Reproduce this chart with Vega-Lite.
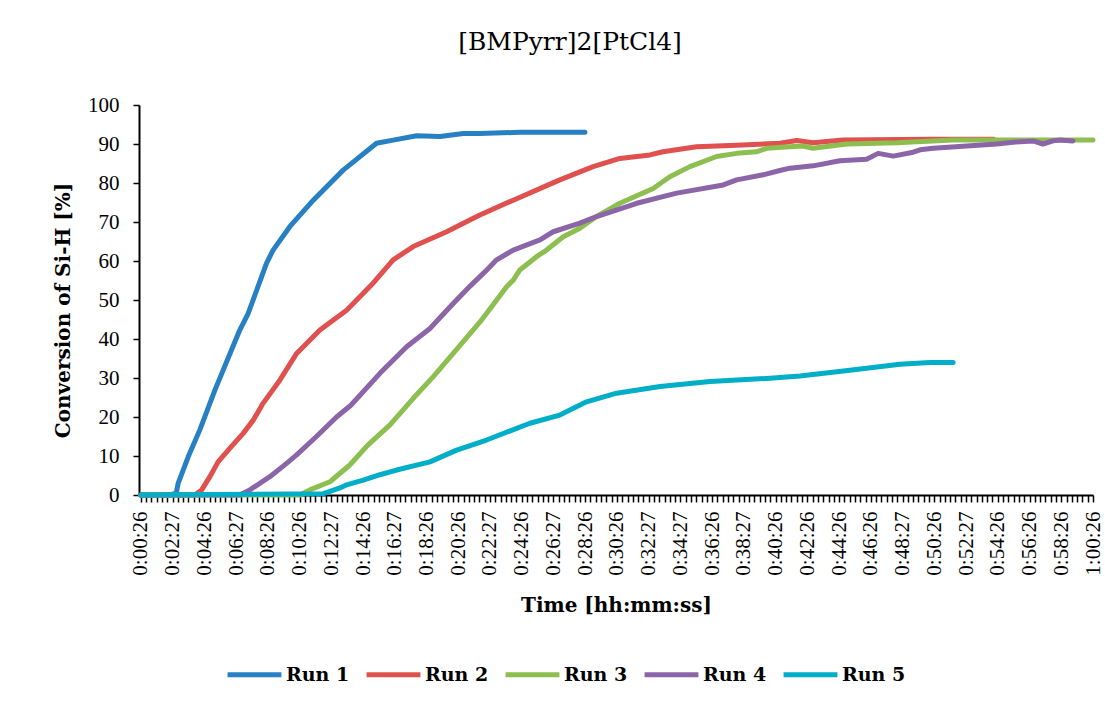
{
  "$schema": "https://vega.github.io/schema/vega-lite/v6.json",
  "autosize": "none",
  "width": 954,
  "height": 390,
  "padding": {"left": 139, "top": 105, "right": 12, "bottom": 207},
  "background": "white",
  "title": {"text": "[BMPyrr]2[PtCl4]", "font": "DejaVu Serif", "fontSize": 25, "fontWeight": "normal", "color": "black", "anchor": "middle", "frame": "group", "dx": -46, "offset": 39},
  "datasets": {
    "runs": [
      {"run": "Run 1", "t": 26, "v": 0}, {"run": "Run 1", "t": 136, "v": 0}, {"run": "Run 1", "t": 160, "v": 0.5}, {"run": "Run 1", "t": 167, "v": 3},
      {"run": "Run 1", "t": 205, "v": 9.8}, {"run": "Run 1", "t": 249, "v": 16.7}, {"run": "Run 1", "t": 306, "v": 26.9}, {"run": "Run 1", "t": 400, "v": 42.3},
      {"run": "Run 1", "t": 432, "v": 46.6}, {"run": "Run 1", "t": 501, "v": 59.4}, {"run": "Run 1", "t": 526, "v": 62.8}, {"run": "Run 1", "t": 589, "v": 68.8},
      {"run": "Run 1", "t": 678, "v": 75.6}, {"run": "Run 1", "t": 791, "v": 83.3}, {"run": "Run 1", "t": 917, "v": 90.2}, {"run": "Run 1", "t": 980, "v": 91},
      {"run": "Run 1", "t": 1069, "v": 92.1}, {"run": "Run 1", "t": 1157, "v": 91.9}, {"run": "Run 1", "t": 1245, "v": 92.7}, {"run": "Run 1", "t": 1308, "v": 92.7},
      {"run": "Run 1", "t": 1459, "v": 93}, {"run": "Run 1", "t": 1705, "v": 93},

      {"run": "Run 2", "t": 26, "v": 0}, {"run": "Run 2", "t": 230, "v": 0}, {"run": "Run 2", "t": 256, "v": 1.3}, {"run": "Run 2", "t": 287, "v": 4.7},
      {"run": "Run 2", "t": 318, "v": 8.5}, {"run": "Run 2", "t": 363, "v": 12}, {"run": "Run 2", "t": 413, "v": 15.8}, {"run": "Run 2", "t": 451, "v": 19.2},
      {"run": "Run 2", "t": 488, "v": 23.5}, {"run": "Run 2", "t": 552, "v": 29.5}, {"run": "Run 2", "t": 615, "v": 36.3}, {"run": "Run 2", "t": 703, "v": 42.3},
      {"run": "Run 2", "t": 804, "v": 47.4}, {"run": "Run 2", "t": 904, "v": 54.3}, {"run": "Run 2", "t": 980, "v": 60.3}, {"run": "Run 2", "t": 1056, "v": 63.7},
      {"run": "Run 2", "t": 1182, "v": 67.5}, {"run": "Run 2", "t": 1270, "v": 70.5}, {"run": "Run 2", "t": 1308, "v": 71.8}, {"run": "Run 2", "t": 1434, "v": 75.6},
      {"run": "Run 2", "t": 1610, "v": 80.8}, {"run": "Run 2", "t": 1736, "v": 84.2}, {"run": "Run 2", "t": 1837, "v": 86.3}, {"run": "Run 2", "t": 1951, "v": 87.2},
      {"run": "Run 2", "t": 2000, "v": 88}, {"run": "Run 2", "t": 2127, "v": 89.3}, {"run": "Run 2", "t": 2279, "v": 89.7}, {"run": "Run 2", "t": 2442, "v": 90.2},
      {"run": "Run 2", "t": 2506, "v": 90.9}, {"run": "Run 2", "t": 2567, "v": 90.3}, {"run": "Run 2", "t": 2681, "v": 91}, {"run": "Run 2", "t": 3010, "v": 91.2},
      {"run": "Run 2", "t": 3250, "v": 91.2},

      {"run": "Run 3", "t": 26, "v": 0}, {"run": "Run 3", "t": 627, "v": 0}, {"run": "Run 3", "t": 665, "v": 1.3}, {"run": "Run 3", "t": 741, "v": 3.4},
      {"run": "Run 3", "t": 816, "v": 7.7}, {"run": "Run 3", "t": 884, "v": 12.8}, {"run": "Run 3", "t": 968, "v": 18}, {"run": "Run 3", "t": 1056, "v": 24.8},
      {"run": "Run 3", "t": 1131, "v": 30.3}, {"run": "Run 3", "t": 1207, "v": 36.3}, {"run": "Run 3", "t": 1310, "v": 44.5}, {"run": "Run 3", "t": 1409, "v": 53.4},
      {"run": "Run 3", "t": 1434, "v": 55.1}, {"run": "Run 3", "t": 1459, "v": 57.7}, {"run": "Run 3", "t": 1522, "v": 61.1}, {"run": "Run 3", "t": 1560, "v": 62.8},
      {"run": "Run 3", "t": 1623, "v": 66.2}, {"run": "Run 3", "t": 1686, "v": 68.4}, {"run": "Run 3", "t": 1749, "v": 71.4}, {"run": "Run 3", "t": 1837, "v": 74.8},
      {"run": "Run 3", "t": 1963, "v": 78.6}, {"run": "Run 3", "t": 2026, "v": 81.6}, {"run": "Run 3", "t": 2102, "v": 84.2}, {"run": "Run 3", "t": 2203, "v": 86.8},
      {"run": "Run 3", "t": 2279, "v": 87.6}, {"run": "Run 3", "t": 2354, "v": 88}, {"run": "Run 3", "t": 2392, "v": 88.9}, {"run": "Run 3", "t": 2480, "v": 89.3},
      {"run": "Run 3", "t": 2529, "v": 89.5}, {"run": "Run 3", "t": 2567, "v": 88.9}, {"run": "Run 3", "t": 2695, "v": 90}, {"run": "Run 3", "t": 2884, "v": 90.3},
      {"run": "Run 3", "t": 3097, "v": 91}, {"run": "Run 3", "t": 3626, "v": 91},

      {"run": "Run 4", "t": 26, "v": 0}, {"run": "Run 4", "t": 400, "v": 0}, {"run": "Run 4", "t": 438, "v": 1.3}, {"run": "Run 4", "t": 514, "v": 4.7},
      {"run": "Run 4", "t": 577, "v": 8.1}, {"run": "Run 4", "t": 615, "v": 10.3}, {"run": "Run 4", "t": 690, "v": 15}, {"run": "Run 4", "t": 766, "v": 20},
      {"run": "Run 4", "t": 820, "v": 23}, {"run": "Run 4", "t": 930, "v": 31.2}, {"run": "Run 4", "t": 1031, "v": 38}, {"run": "Run 4", "t": 1119, "v": 42.7},
      {"run": "Run 4", "t": 1207, "v": 49.1}, {"run": "Run 4", "t": 1270, "v": 53.5}, {"run": "Run 4", "t": 1308, "v": 56}, {"run": "Run 4", "t": 1334, "v": 57.7},
      {"run": "Run 4", "t": 1371, "v": 60.3}, {"run": "Run 4", "t": 1434, "v": 62.8}, {"run": "Run 4", "t": 1535, "v": 65.4}, {"run": "Run 4", "t": 1585, "v": 67.5},
      {"run": "Run 4", "t": 1686, "v": 69.7}, {"run": "Run 4", "t": 1749, "v": 71.4}, {"run": "Run 4", "t": 1901, "v": 74.8}, {"run": "Run 4", "t": 2052, "v": 77.4},
      {"run": "Run 4", "t": 2228, "v": 79.5}, {"run": "Run 4", "t": 2279, "v": 80.8}, {"run": "Run 4", "t": 2379, "v": 82.1}, {"run": "Run 4", "t": 2442, "v": 83.2},
      {"run": "Run 4", "t": 2480, "v": 83.8}, {"run": "Run 4", "t": 2568, "v": 84.4}, {"run": "Run 4", "t": 2669, "v": 85.7}, {"run": "Run 4", "t": 2770, "v": 86.1},
      {"run": "Run 4", "t": 2814, "v": 87.6}, {"run": "Run 4", "t": 2871, "v": 86.9}, {"run": "Run 4", "t": 2946, "v": 87.9}, {"run": "Run 4", "t": 2972, "v": 88.5},
      {"run": "Run 4", "t": 3022, "v": 88.9}, {"run": "Run 4", "t": 3148, "v": 89.5}, {"run": "Run 4", "t": 3262, "v": 90}, {"run": "Run 4", "t": 3350, "v": 90.6},
      {"run": "Run 4", "t": 3399, "v": 90.8}, {"run": "Run 4", "t": 3437, "v": 90}, {"run": "Run 4", "t": 3475, "v": 90.8}, {"run": "Run 4", "t": 3501, "v": 91},
      {"run": "Run 4", "t": 3550, "v": 90.8},

      {"run": "Run 5", "t": 26, "v": 0}, {"run": "Run 5", "t": 714, "v": 0.3}, {"run": "Run 5", "t": 779, "v": 1.8}, {"run": "Run 5", "t": 804, "v": 2.6},
      {"run": "Run 5", "t": 867, "v": 3.8}, {"run": "Run 5", "t": 930, "v": 5.2}, {"run": "Run 5", "t": 993, "v": 6.4}, {"run": "Run 5", "t": 1119, "v": 8.5},
      {"run": "Run 5", "t": 1220, "v": 11.5}, {"run": "Run 5", "t": 1333, "v": 14.1}, {"run": "Run 5", "t": 1497, "v": 18.4}, {"run": "Run 5", "t": 1610, "v": 20.5},
      {"run": "Run 5", "t": 1711, "v": 23.9}, {"run": "Run 5", "t": 1825, "v": 26.1}, {"run": "Run 5", "t": 1989, "v": 27.8}, {"run": "Run 5", "t": 2178, "v": 29.1},
      {"run": "Run 5", "t": 2392, "v": 29.9}, {"run": "Run 5", "t": 2518, "v": 30.5}, {"run": "Run 5", "t": 2707, "v": 32}, {"run": "Run 5", "t": 2896, "v": 33.5},
      {"run": "Run 5", "t": 3010, "v": 34}, {"run": "Run 5", "t": 3097, "v": 34}
    ]
  },
  "data": {"name": "runs"},
  "mark": {"type": "line", "strokeWidth": 5, "strokeCap": "round", "strokeJoin": "round"},
  "encoding": {
    "x": {
      "field": "t", "type": "quantitative",
      "scale": {"domain": [19, 3626], "nice": false, "zero": false},
      "axis": {
        "title": "Time [hh:mm:ss]",
        "values": [26,46,66,86,106,126,146,166,186,206,226,246,266,286,306,326,346,366,386,406,426,446,466,486,506,526,546,566,586,606,626,646,666,686,706,726,746,766,786,806,826,846,866,886,906,926,946,966,986,1006,1026,1046,1066,1086,1106,1126,1146,1166,1186,1206,1226,1246,1266,1286,1306,1326,1346,1366,1386,1406,1426,1446,1466,1486,1506,1526,1546,1566,1586,1606,1626,1646,1666,1686,1706,1726,1746,1766,1786,1806,1826,1846,1866,1886,1906,1926,1946,1966,1986,2006,2026,2046,2066,2086,2106,2126,2146,2166,2186,2206,2226,2246,2266,2286,2306,2326,2346,2366,2386,2406,2426,2446,2466,2486,2506,2526,2546,2566,2586,2606,2626,2646,2666,2686,2706,2726,2746,2766,2786,2806,2826,2846,2866,2886,2906,2926,2946,2966,2986,3006,3026,3046,3066,3086,3106,3126,3146,3166,3186,3206,3226,3246,3266,3286,3306,3326,3346,3366,3386,3406,3426,3446,3466,3486,3506,3526,3546,3566,3586,3606,3626],
        "labelExpr": "round((datum.value - 26) / 20) % 6 == 0 ? ['0:00:26','0:02:27','0:04:26','0:06:27','0:08:26','0:10:26','0:12:27','0:14:26','0:16:27','0:18:26','0:20:26','0:22:27','0:24:26','0:26:27','0:28:26','0:30:26','0:32:27','0:34:27','0:36:26','0:38:27','0:40:26','0:42:26','0:44:26','0:46:26','0:48:27','0:50:26','0:52:27','0:54:26','0:56:26','0:58:26','1:00:26'][round((datum.value - 26) / 120)] : ''",
        "labelAngle": 270,
        "labelOverlap": false,
        "labelBound": false,
        "labelFlush": false,
        "tickSize": 7,
        "labelPadding": 9,
        "titlePadding": 20
      }
    },
    "y": {
      "field": "v", "type": "quantitative",
      "scale": {"domain": [0, 100], "nice": false},
      "axis": {"title": "Conversion of Si-H [%]", "values": [0,10,20,30,40,50,60,70,80,90,100], "tickSize": 6, "labelPadding": 14, "titlePadding": 14, "titleY": 205}
    },
    "color": {
      "field": "run", "type": "nominal",
      "scale": {"domain": ["Run 1", "Run 2", "Run 3", "Run 4", "Run 5"], "range": ["#2680C3", "#E0504E", "#8DBE50", "#8B65A8", "#00AEC7"]},
      "legend": {
        "title": null, "orient": "none", "legendX": 86, "legendY": 540, "direction": "horizontal",
        "symbolType": "stroke", "symbolStrokeWidth": 5, "symbolSize": 2900,
        "labelFont": "DejaVu Serif", "labelFontWeight": "bold", "labelFontSize": 19, "labelColor": "black",
        "labelOffset": 2, "columnPadding": 6
      }
    }
  },
  "config": {
    "view": {"stroke": null},
    "axis": {
      "grid": false, "domainColor": "black", "domainWidth": 2, "tickColor": "black", "tickWidth": 1.5,
      "labelColor": "black", "labelFont": "Liberation Serif", "labelFontSize": 21,
      "titleFont": "DejaVu Serif", "titleFontSize": 20, "titleFontWeight": "bold", "titleColor": "black"
    }
  }
}
